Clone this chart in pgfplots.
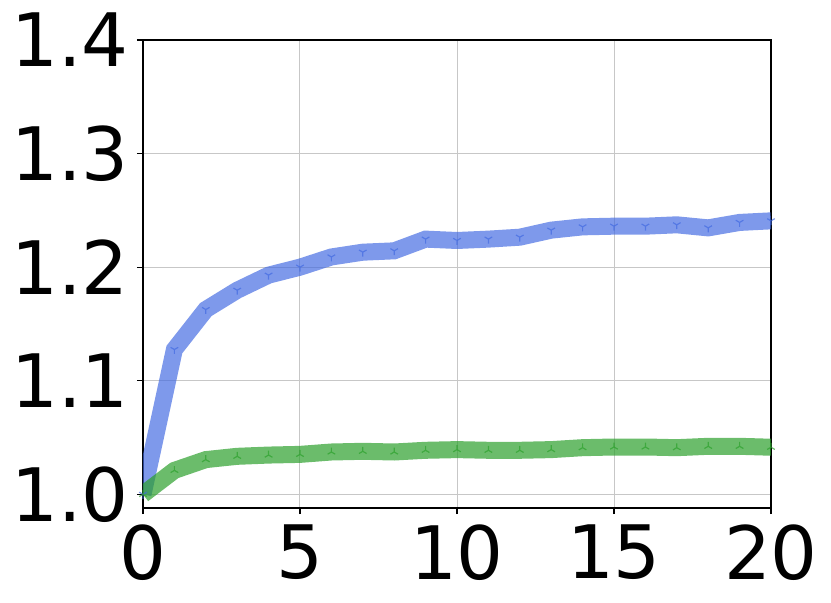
\documentclass[border=0pt]{standalone}
\usepackage{fontspec}
\setmainfont{DejaVu Sans}
\usepackage{pgfplots}
\usepackage{pgfplotstable}
\pgfplotsset{compat=1.18}
\definecolor{myblue}{RGB}{65,105,225}
\definecolor{mygreen}{RGB}{44,160,44}
\pgfdeclareplotmark{tridown}{%
  \pgfpathmoveto{\pgfqpoint{0pt}{0pt}}\pgfpathlineto{\pgfqpoint{0pt}{-\pgfplotmarksize}}%
  \pgfpathmoveto{\pgfqpoint{0pt}{0pt}}\pgfpathlineto{\pgfpointpolar{150}{\pgfplotmarksize}}%
  \pgfpathmoveto{\pgfqpoint{0pt}{0pt}}\pgfpathlineto{\pgfpointpolar{30}{\pgfplotmarksize}}%
  \pgfusepathqstroke}
\pgfdeclareplotmark{triup}{%
  \pgfpathmoveto{\pgfqpoint{0pt}{0pt}}\pgfpathlineto{\pgfqpoint{0pt}{\pgfplotmarksize}}%
  \pgfpathmoveto{\pgfqpoint{0pt}{0pt}}\pgfpathlineto{\pgfpointpolar{210}{\pgfplotmarksize}}%
  \pgfpathmoveto{\pgfqpoint{0pt}{0pt}}\pgfpathlineto{\pgfpointpolar{330}{\pgfplotmarksize}}%
  \pgfusepathqstroke}
\pgfplotstableread{
x y
0 1.000
1 1.1275
2 1.1627
3 1.1797
4 1.1930
5 1.2000
6 1.2090
7 1.2132
8 1.2144
9 1.2247
10 1.2235
11 1.2247
12 1.2264
13 1.2326
14 1.2355
15 1.2361
16 1.2361
17 1.2373
18 1.2346
19 1.2394
20 1.2408
}\bluedata
\pgfplotstableread{
x y
0 1.000
1 1.0211
2 1.0306
3 1.0335
4 1.0346
5 1.0352
6 1.0373
7 1.0379
8 1.0373
9 1.0388
10 1.0394
11 1.0388
12 1.0388
13 1.0394
14 1.0411
15 1.0417
16 1.0417
17 1.0411
18 1.0423
19 1.0423
20 1.0415
}\greendata
\begin{document}
\begin{tikzpicture}
\begin{axis}[
  scale only axis,
  width=314bp, height=234bp,
  xmin=0, xmax=20, ymin=0.988, ymax=1.4,
  xtick={0,5,10,15,20},
  ytick={1.0,1.1,1.2,1.3,1.4},
  xtick pos=bottom, ytick pos=left,
  y tick label style={/pgf/number format/fixed,/pgf/number format/fixed zerofill,/pgf/number format/precision=1},
  /pgf/number format/assume math mode=true,
  tick label style={font=\fontsize{37}{37}\selectfont},
  grid=major,
  grid style={black!22, line width=0.5bp},
  axis line style={line width=0.6bp},
  tick align=outside,
  major tick length=3bp,
  tick style={black, line width=0.6bp},
  xticklabel style={inner sep=0pt, yshift=-5bp, anchor=north},
  yticklabel style={inner sep=0pt, xshift=-4bp, anchor=east},
]
\addplot[myblue, line width=8.5bp, draw opacity=0.68, mark=tridown, mark size=2.2bp,
  mark options={line width=0.6bp, draw opacity=0.68}] table[x=x,y=y]{\bluedata};
\addplot[mygreen, line width=8.5bp, draw opacity=0.7, mark=triup, mark size=2.2bp,
  mark options={line width=0.6bp, draw opacity=0.7}] table[x=x,y=y]{\greendata};
\coordinate (sw) at (rel axis cs:0,0);
\coordinate (ne) at (rel axis cs:1,1);
\end{axis}
\pgfresetboundingbox
\path ([shift={(-71.5bp,-47.5bp)}]sw) rectangle ([shift={(30bp,20bp)}]ne);
\end{tikzpicture}
\end{document}
